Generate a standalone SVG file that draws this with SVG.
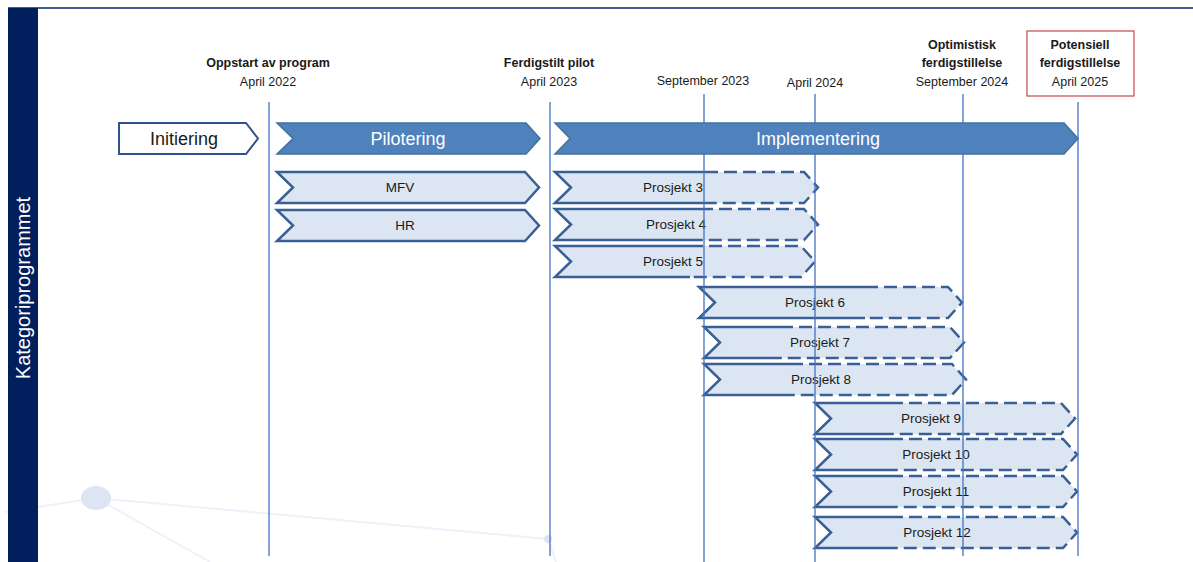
<svg xmlns="http://www.w3.org/2000/svg" width="1193" height="562" viewBox="0 0 1193 562">
<defs>
<style>
.hdr{font-family:"Liberation Sans",Arial,sans-serif;font-size:12.5px;fill:#1a1a1a;text-anchor:middle}
.b{font-weight:bold}
.phase{font-family:"Liberation Sans",Arial,sans-serif;font-size:18px;text-anchor:middle}
.lbl{font-family:"Liberation Sans",Arial,sans-serif;font-size:13.5px;fill:#1a1a1a;text-anchor:middle}
.dark{fill:#4F81BD;stroke:#41719C;stroke-width:1.5}
.lightfill{fill:#DCE6F2;stroke:none}
.solid{fill:none;stroke:#3A5F96;stroke-width:2.5;stroke-linejoin:miter}
.dash{fill:none;stroke:#3A5F96;stroke-width:2.5;stroke-dasharray:13 6}
.grid{stroke:#4472C4;stroke-width:1.3}
.deco{stroke:#EDF1FA;stroke-width:2;fill:none}
</style>
</defs>
<rect width="1193" height="562" fill="#ffffff"/>
<g id="decoration">
<path class="deco" d="M5 512 L96 498 L548 539 L556 562 M96 498 L210 562"/>
<ellipse cx="96" cy="498" rx="15" ry="12" fill="#DDE5F4"/>
<circle cx="548" cy="539" r="4" fill="#DDE5F4"/>
</g>
<line x1="8" y1="8" x2="1193" y2="8" stroke="#3F5F8F" stroke-width="2"/>
<g id="sidebar">
<rect x="8" y="8" width="30" height="554" fill="#001F5C"/>
<text transform="translate(30,288) rotate(-90)" font-family="'Liberation Sans',Arial,sans-serif" font-size="20" fill="#ffffff" text-anchor="middle">Kategoriprogrammet</text>
</g>
<g id="m-oppstart"><text class="hdr b" x="268" y="67">Oppstart av program</text><text class="hdr" x="268" y="86">April 2022</text></g>
<g id="m-pilot"><text class="hdr b" x="549" y="67">Ferdigstilt pilot</text><text class="hdr" x="549" y="86">April 2023</text></g>
<g id="m-sep2023"><text class="hdr" x="703" y="85">September 2023</text></g>
<g id="m-apr2024"><text class="hdr" x="815" y="87">April 2024</text></g>
<g id="m-optimistisk"><text class="hdr b" x="962" y="49">Optimistisk</text><text class="hdr b" x="962" y="67">ferdigstillelse</text><text class="hdr" x="962" y="86">September 2024</text></g>
<g id="m-potensiell"><rect x="1027" y="31" width="107" height="65" fill="#ffffff" stroke="#C9575A" stroke-width="1.3"/><text class="hdr b" x="1080" y="49">Potensiell</text><text class="hdr b" x="1080" y="67">ferdigstillelse</text><text class="hdr" x="1080" y="86">April 2025</text></g>
<g id="mfv"><path class="lightfill" d="M277 172 L525 172 L539 187.5 L525 203 L277 203 L293 187.5 Z"/><path class="solid" d="M277 172 L525 172 L539 187.5 L525 203 L277 203 L293 187.5 Z"/><text class="lbl" x="400" y="192" font-size="12.5">MFV</text></g>
<g id="hr"><path class="lightfill" d="M277 210 L525 210 L539 225.5 L525 241 L277 241 L293 225.5 Z"/><path class="solid" d="M277 210 L525 210 L539 225.5 L525 241 L277 241 L293 225.5 Z"/><text class="lbl" x="405" y="230" font-size="12.5">HR</text></g>
<g id="p3"><path class="lightfill" d="M555 172 L804 172 L818 187.5 L804 203 L555 203 L571 187.5 Z"/><path class="solid" d="M705 172 L555 172 L571 187.5 L555 203 L705 203"/><path class="dash" d="M705 172 L804 172 L818 187.5 L804 203 L705 203"/><text class="lbl" x="673" y="192">Prosjekt 3</text></g>
<g id="p4"><path class="lightfill" d="M555 209 L804 209 L818 224.5 L804 240 L555 240 L571 224.5 Z"/><path class="solid" d="M700 209 L555 209 L571 224.5 L555 240 L700 240"/><path class="dash" d="M700 209 L804 209 L818 224.5 L804 240 L700 240"/><text class="lbl" x="676" y="229">Prosjekt 4</text></g>
<g id="p5"><path class="lightfill" d="M555 246 L801 246 L815 261.5 L801 277 L555 277 L571 261.5 Z"/><path class="solid" d="M690 246 L555 246 L571 261.5 L555 277 L690 277"/><path class="dash" d="M690 246 L801 246 L815 261.5 L801 277 L690 277"/><text class="lbl" x="673" y="266">Prosjekt 5</text></g>
<g id="p6"><path class="lightfill" d="M699 287 L948 287 L962 302.5 L948 318 L699 318 L715 302.5 Z"/><path class="solid" d="M865 287 L699 287 L715 302.5 L699 318 L865 318"/><path class="dash" d="M865 287 L948 287 L962 302.5 L948 318 L865 318"/><text class="lbl" x="815" y="307">Prosjekt 6</text></g>
<g id="p7"><path class="lightfill" d="M704 327 L950 327 L964 342.5 L950 358 L704 358 L720 342.5 Z"/><path class="solid" d="M780 327 L704 327 L720 342.5 L704 358 L780 358"/><path class="dash" d="M780 327 L950 327 L964 342.5 L950 358 L780 358"/><text class="lbl" x="820" y="347">Prosjekt 7</text></g>
<g id="p8"><path class="lightfill" d="M704 364 L952 364 L966 379.5 L952 395 L704 395 L720 379.5 Z"/><path class="solid" d="M790 364 L704 364 L720 379.5 L704 395 L790 395"/><path class="dash" d="M790 364 L952 364 L966 379.5 L952 395 L790 395"/><text class="lbl" x="821" y="384">Prosjekt 8</text></g>
<g id="p9"><path class="lightfill" d="M815 403 L1061 403 L1075 418.5 L1061 434 L815 434 L831 418.5 Z"/><path class="solid" d="M890 403 L815 403 L831 418.5 L815 434 L890 434"/><path class="dash" d="M890 403 L1061 403 L1075 418.5 L1061 434 L890 434"/><text class="lbl" x="931" y="423">Prosjekt 9</text></g>
<g id="p10"><path class="lightfill" d="M815 439 L1063 439 L1077 454.5 L1063 470 L815 470 L831 454.5 Z"/><path class="solid" d="M890 439 L815 439 L831 454.5 L815 470 L890 470"/><path class="dash" d="M890 439 L1063 439 L1077 454.5 L1063 470 L890 470"/><text class="lbl" x="936" y="459">Prosjekt 10</text></g>
<g id="p11"><path class="lightfill" d="M815 476 L1063 476 L1077 491.5 L1063 507 L815 507 L831 491.5 Z"/><path class="solid" d="M890 476 L815 476 L831 491.5 L815 507 L890 507"/><path class="dash" d="M890 476 L1063 476 L1077 491.5 L1063 507 L890 507"/><text class="lbl" x="936" y="496">Prosjekt 11</text></g>
<g id="p12"><path class="lightfill" d="M815 517 L1063 517 L1077 532.5 L1063 548 L815 548 L831 532.5 Z"/><path class="solid" d="M890 517 L815 517 L831 532.5 L815 548 L890 548"/><path class="dash" d="M890 517 L1063 517 L1077 532.5 L1063 548 L890 548"/><text class="lbl" x="937" y="537">Prosjekt 12</text></g>
<g id="connectors">
<line class="grid" x1="269" y1="102" x2="269" y2="308" stroke-width="2.6"/>
<line class="grid" x1="269" y1="308" x2="269" y2="556"/>
<line class="grid" x1="550" y1="102" x2="550" y2="556"/>
<line class="grid" x1="704" y1="94" x2="704" y2="562"/>
<line class="grid" x1="815" y1="94" x2="815" y2="562"/>
<line class="grid" x1="963" y1="94" x2="963" y2="556"/>
<line class="grid" x1="1078" y1="102" x2="1078" y2="556"/>
</g>
<g id="initiering"><path d="M119 123 L246 123 L258 138.5 L246 154 L119 154 Z" fill="#ffffff" stroke="#2F528F" stroke-width="2"/><text class="phase" x="184" y="145" fill="#1a1a1a">Initiering</text></g>
<g id="pilotering"><path class="dark" d="M277 123 L526 123 L540 138.5 L526 154 L277 154 L293 138.5 Z"/><text class="phase" x="408" y="145" fill="#ffffff">Pilotering</text></g>
<g id="implementering"><path class="dark" d="M555 123 L1064 123 L1078 138.5 L1064 154 L555 154 L570 138.5 Z"/><text class="phase" x="818" y="145" fill="#ffffff">Implementering</text></g>
</svg>
